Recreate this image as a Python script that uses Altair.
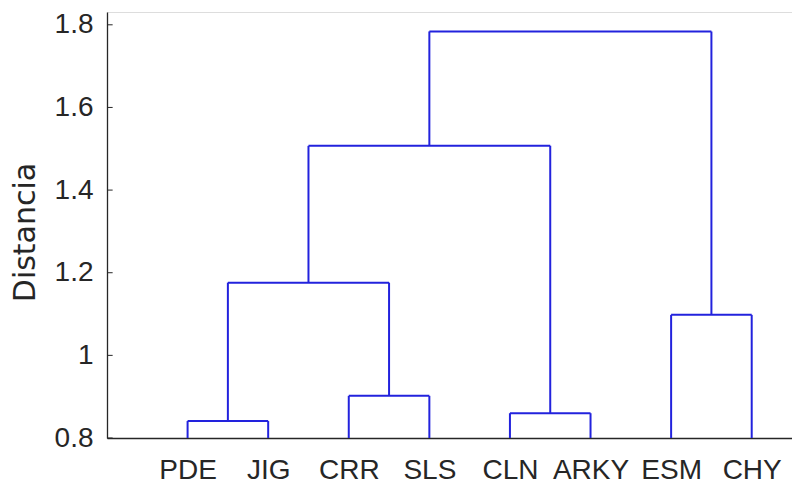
import altair as alt
import pandas as pd

leaves = ["PDE", "JIG", "CRR", "SLS", "CLN", "ARKY", "ESM", "CHY"]
# linkage: (left node, right node, height); leaves are 0..7, new clusters 8..14
merge_left = [0, 2, 4, 6, 8, 12, 13]
merge_right = [1, 3, 5, 7, 9, 10, 11]
merge_height = [0.841, 0.902, 0.860, 1.098, 1.176, 1.507, 1.784]
y_ticks = [0.8, 1.0, 1.2, 1.4, 1.6, 1.8]
base = 0.8

# build segments
xpos = {i: i + 1 for i in range(len(leaves))}
hpos = {i: base for i in range(len(leaves))}
rows = []
for k, (l, r, h) in enumerate(zip(merge_left, merge_right, merge_height)):
    node = len(leaves) + k
    xl, xr = xpos[l], xpos[r]
    rows.append(dict(x=xl, y=hpos[l], x2=xl, y2=h))
    rows.append(dict(x=xl, y=h, x2=xr, y2=h))
    rows.append(dict(x=xr, y=hpos[r], x2=xr, y2=h))
    xpos[node] = (xl + xr) / 2
    hpos[node] = h
segs = pd.DataFrame(rows)

label_expr = "[" + ",".join(f"'{s}'" for s in leaves) + "][datum.value - 1]"

xscale = alt.Scale(domain=[0, 8.5], nice=False, zero=False)
yscale = alt.Scale(domain=[0.8, 1.831], nice=False, zero=False)

FONT = "Liberation Sans"
GRAY = "#262626"

lines = alt.Chart(segs).mark_rule(color="#2222dd", strokeWidth=2).encode(
    x=alt.X("x:Q", scale=xscale,
            axis=alt.Axis(values=list(range(1, 9)), labelExpr=label_expr, title=None,
                          grid=False, ticks=False, domainColor=GRAY, domainWidth=1.3,
                          labelFont=FONT, labelFontSize=28, labelColor=GRAY,
                          labelPadding=18, labelFlush=False)),
    y=alt.Y("y:Q", scale=yscale,
            axis=alt.Axis(values=y_ticks, title="Distancia", grid=False, ticks=False,
                          labelExpr="format(datum.value, '~g')",
                          domainColor=GRAY, domainWidth=1.3,
                          labelFont=FONT, labelFontSize=28, labelColor=GRAY,
                          labelPadding=14, titleFont="DejaVu Sans", titleFontSize=30,
                          titleFontWeight="normal", titleColor=GRAY,
                          titleAngle=270, titleX=-73, titleY=220,
                          titleAlign="center", titleBaseline="alphabetic")),
    x2="x2:Q",
    y2="y2:Q",
)

tick_df = pd.DataFrame({"t": y_ticks})
ticks = alt.Chart(tick_df).mark_rule(color=GRAY, strokeWidth=1).encode(
    y=alt.Y("t:Q", scale=yscale),
    x=alt.datum(0, scale=xscale),
    x2=alt.datum(0.07),
)

chart = alt.layer(ticks, lines).properties(
    width=685, height=426,
    autosize=alt.AutoSizeParams(type="none"),
    padding={"left": 99, "top": 4, "right": 0, "bottom": 47},
).configure_view(stroke=None).configure(background="white")

chart.save("out.html", embed_options={"renderer": "svg", "actions": False})
